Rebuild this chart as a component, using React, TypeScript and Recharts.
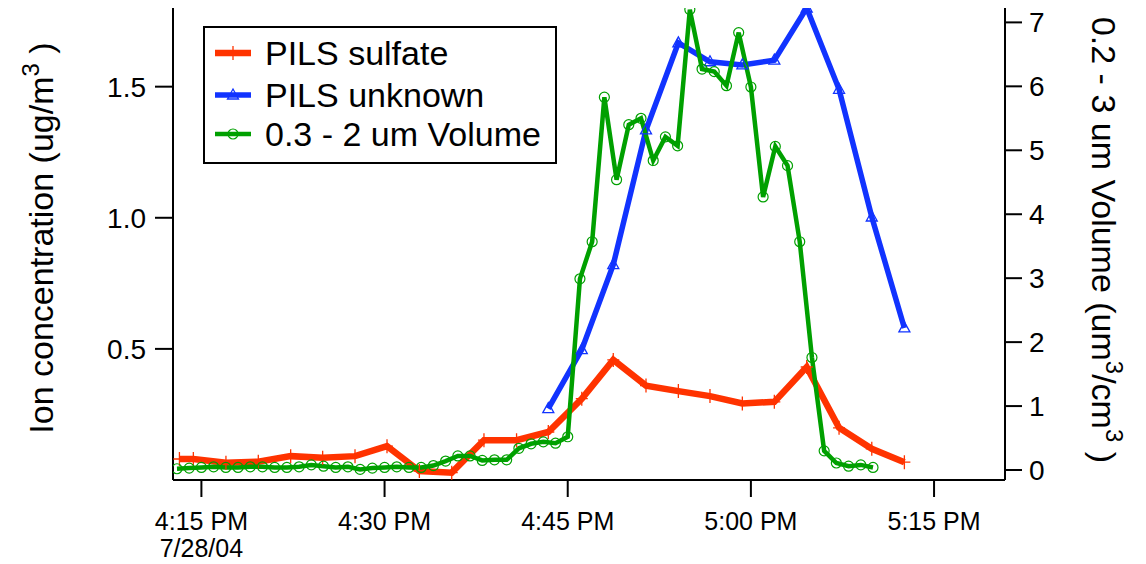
import { Legend, Line, LineChart, XAxis, YAxis } from 'recharts'

// minutes after 4:00 PM, 7/28/04
const sulfateTimes = [
  13.2, 14.34, 17.01, 19.66, 22.31, 24.93, 27.58, 30.2, 32.85, 35.5, 38.14, 40.81,
  43.41, 46.15, 48.73, 51.41, 54.06, 56.65, 59.3, 61.92, 64.57, 67.22, 69.9, 72.57,
]
const sulfateValues = [
  0.08, 0.08, 0.066, 0.07, 0.091, 0.085, 0.091, 0.129, 0.034, 0.028, 0.152, 0.152,
  0.183, 0.31, 0.458, 0.36, 0.339, 0.32, 0.292, 0.298, 0.431, 0.199, 0.119, 0.068,
]

const unknownTimes = [43.41, 46.15, 48.73, 51.41, 54.06, 56.65, 59.3, 61.92, 64.57, 67.22, 69.9, 72.57]
const unknownValues = [0.272, 0.497, 0.821, 1.335, 1.667, 1.595, 1.583, 1.601, 1.8, 1.49, 1.003, 0.58]

const volumeTimes = [
  13, 14, 15, 16, 17, 18, 19, 20, 21, 22, 23, 24, 25, 26, 27, 28, 29, 30, 31, 32,
  33, 34, 35, 36, 37, 38, 39, 40, 41, 42, 43, 44, 45, 46, 47, 48, 49, 50, 51, 52,
  53, 54, 55, 56, 57, 58, 59, 60, 61, 62, 63, 64, 65, 66, 67, 68, 69, 70,
]
const volumeValues = [
  0.02, 0.03, 0.04, 0.05, 0.04, 0.04, 0.05, 0.05, 0.04, 0.04, 0.05, 0.08, 0.06, 0.04,
  0.05, 0.01, 0.03, 0.04, 0.05, 0.04, 0.04, 0.07, 0.14, 0.22, 0.22, 0.15, 0.16, 0.16,
  0.34, 0.41, 0.44, 0.42, 0.52, 2.99, 3.57, 5.83, 4.54, 5.4, 5.5, 4.84, 5.21, 5.07,
  7.2, 6.27, 6.23, 6.01, 6.84, 5.99, 4.27, 5.06, 4.76, 3.57, 1.76, 0.3, 0.11, 0.06,
  0.08, 0.04,
]

const timeTicks = [15, 30, 45, 60, 75]
const ionTicks = [0.5, 1.0, 1.5]
const volumeTicks = [0, 1, 2, 3, 4, 5, 6, 7]

const RED = '#ff3300'
const BLUE = '#1133ff'
const GREEN = '#00a000'

const sulfateData = sulfateTimes.map((t, i) => ({ t, v: sulfateValues[i] }))
const unknownData = unknownTimes.map((t, i) => ({ t, v: unknownValues[i] }))
const volumeData = volumeTimes.map((t, i) => ({ t, v: volumeValues[i] }))

const FONT = '"Liberation Sans", Arial, Helvetica, sans-serif'

function formatTime(m: number) {
  const h = 4 + Math.floor(m / 60)
  const mm = Math.round(m % 60)
  return `${h}:${mm < 10 ? '0' + mm : mm} PM`
}

function PlusDot(props: any) {
  const { cx, cy } = props
  if (cx == null || cy == null) return <g />
  return (
    <path
      d={`M${cx - 6},${cy}H${cx + 6}M${cx},${cy - 7}V${cy + 7}`}
      stroke={RED}
      strokeWidth={1.3}
      fill="none"
    />
  )
}

function TriangleDot(props: any) {
  const { cx, cy } = props
  if (cx == null || cy == null) return <g />
  return (
    <path
      d={`M${cx},${cy - 6}L${cx + 5.5},${cy + 4}L${cx - 5.5},${cy + 4}Z`}
      stroke={BLUE}
      strokeWidth={1.3}
      fill="none"
    />
  )
}

function CircleDot(props: any) {
  const { cx, cy } = props
  if (cx == null || cy == null) return <g />
  return <circle cx={cx} cy={cy} r={5} stroke={GREEN} strokeWidth={1.2} fill="none" />
}

function TimeTick(props: any) {
  const { x, y, payload } = props
  return (
    <g transform={`translate(${x},${y})`}>
      <text textAnchor="middle" fill="#000" fontSize={25} fontFamily={FONT}>
        <tspan x={0} dy={33}>
          {formatTime(payload.value)}
        </tspan>
        {payload.value === timeTicks[0] && (
          <tspan x={0} dy={27}>
            7/28/04
          </tspan>
        )}
      </text>
    </g>
  )
}

function IonTitle() {
  return (
    <text transform="translate(53,238) rotate(-90)" textAnchor="middle" fontSize={34} fill="#000" fontFamily={FONT}>
      Ion concentration (ug/m
      <tspan dy={-14} fontSize={24}>
        3
      </tspan>
      <tspan dy={14}> )</tspan>
    </text>
  )
}

function VolumeTitle() {
  return (
    <text transform="translate(1092,240) rotate(90)" textAnchor="middle" fontSize={34} fill="#000" fontFamily={FONT}>
      0.2 - 3 um Volume (um
      <tspan dy={-14} fontSize={24}>
        3
      </tspan>
      <tspan dy={14}>/cm</tspan>
      <tspan dy={-14} fontSize={24}>
        3
      </tspan>
      <tspan dy={14}> )</tspan>
    </text>
  )
}

const legendRows = [
  { label: 'PILS sulfate', color: RED, width: 6.5, mark: 'plus' },
  { label: 'PILS unknown', color: BLUE, width: 5.5, mark: 'triangle' },
  { label: '0.3 - 2 um Volume', color: GREEN, width: 4.5, mark: 'circle' },
]

function LegendBox() {
  const centers = [27, 69, 108]
  return (
    <svg width={354} height={138} style={{ display: 'block' }}>
      <rect x={1} y={1} width={352} height={136} fill="#fff" stroke="#000" strokeWidth={2} />
      {legendRows.map((row, i) => {
        const cy = centers[i]
        const cx = 30
        return (
          <g key={row.label}>
            <line x1={12} x2={48} y1={cy} y2={cy} stroke={row.color} strokeWidth={row.width} />
            {row.mark === 'plus' && <PlusDot cx={cx} cy={cy} />}
            {row.mark === 'triangle' && <TriangleDot cx={cx} cy={cy} />}
            {row.mark === 'circle' && <CircleDot cx={cx} cy={cy} />}
            <text x={62} y={cy + 12} fontSize={34} fill="#000" fontFamily={FONT}>
              {row.label}
            </text>
          </g>
        )
      })}
    </svg>
  )
}

const axisStroke = { stroke: '#000', strokeWidth: 2 }

export default function App() {
  return (
    <div style={{ position: 'absolute', left: 0, top: 0, width: 1146, height: 564, background: '#fff', fontFamily: FONT }}>
      <LineChart width={1146} height={564} margin={{ top: 8, right: 0, bottom: 0, left: 0 }}>
        <XAxis
          dataKey="t"
          type="number"
          domain={[12.674, 80.81]}
          allowDataOverflow
          ticks={timeTicks}
          height={84}
          axisLine={axisStroke}
          tickLine={axisStroke}
          tickSize={17}
          tickMargin={0}
          tick={<TimeTick />}
        />
        <YAxis
          yAxisId="left"
          orientation="left"
          width={173}
          domain={[0, 1.8]}
          allowDataOverflow
          ticks={ionTicks}
          tickFormatter={(v: number) => v.toFixed(1)}
          axisLine={axisStroke}
          tickLine={axisStroke}
          tickSize={18}
          tickMargin={9}
          tick={{ fill: '#000', fontSize: 28 }}
          label={() => <IonTitle />}
        />
        <YAxis
          yAxisId="right"
          orientation="right"
          width={141}
          domain={[-0.156, 7.225]}
          allowDataOverflow
          ticks={volumeTicks}
          axisLine={axisStroke}
          tickLine={axisStroke}
          tickSize={17}
          tickMargin={7}
          tick={{ fill: '#000', fontSize: 28 }}
          label={() => <VolumeTitle />}
        />
        <Legend
          layout="horizontal"
          verticalAlign="middle"
          align="center"
          wrapperStyle={{ left: 203, top: 26, width: 354, height: 138 }}
          content={() => <LegendBox />}
        />
        <Line
          yAxisId="left"
          data={sulfateData}
          dataKey="v"
          type="linear"
          stroke={RED}
          strokeWidth={6.5}
          strokeLinejoin="miter"
          dot={PlusDot}
          activeDot={false}
          isAnimationActive={false}
        />
        <Line
          yAxisId="left"
          data={unknownData}
          dataKey="v"
          type="linear"
          stroke={BLUE}
          strokeWidth={5.5}
          strokeLinejoin="miter"
          dot={TriangleDot}
          activeDot={false}
          isAnimationActive={false}
        />
        <Line
          yAxisId="right"
          data={volumeData}
          dataKey="v"
          type="linear"
          stroke={GREEN}
          strokeWidth={4.5}
          strokeLinejoin="miter"
          dot={CircleDot}
          activeDot={false}
          isAnimationActive={false}
        />
      </LineChart>
    </div>
  )
}
